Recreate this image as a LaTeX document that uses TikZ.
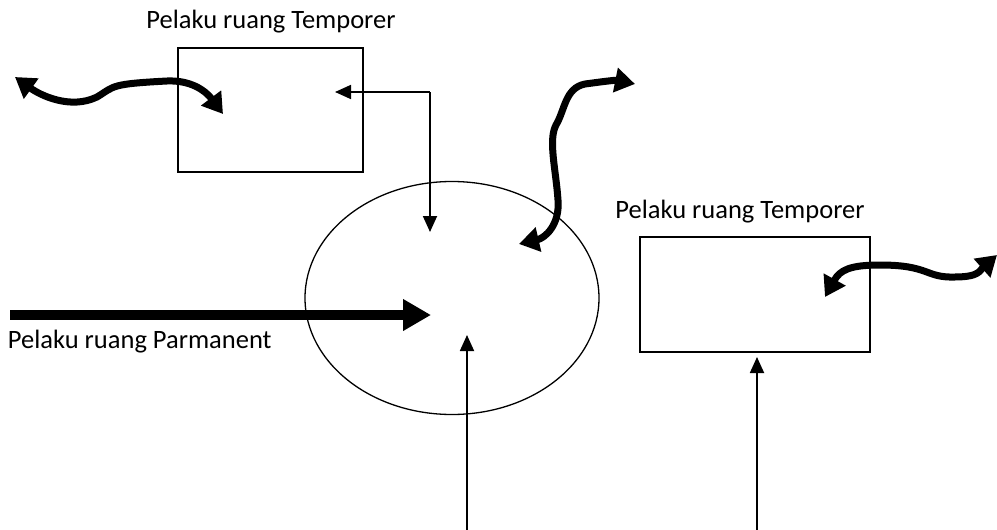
\documentclass[tikz,border=0pt]{standalone}
\usepackage{fontspec}
\setmainfont{Carlito}
\usetikzlibrary{arrows.meta,shapes.geometric}
\begin{document}
\begin{tikzpicture}[x=1pt,y=-1pt,
  every node/.style={inner sep=0pt,outer sep=0pt},
  boxnode/.style={draw,line width=1.3pt,rectangle,anchor=north west},
  blob/.style={draw,line width=1.3pt,ellipse},
  caption/.style={font=\fontsize{26.5}{30}\selectfont},
  thin arrow/.style={line width=1.8pt,-{Triangle[length=16pt,width=14pt]}},
  bold arrow/.style={line width=10pt,-{Triangle[length=28pt,width=30pt]}},
  wave/.style={line width=7pt,line cap=round,line join=round},
  wavetip/.style={{Triangle[length=20pt,width=24pt]}-{Triangle[length=20pt,width=24pt]}}
]
\useasboundingbox (0,0) rectangle (997,530);
% rooms and the shared space
\node[boxnode,minimum width=185pt,minimum height=124pt] (roomA) at (178,48) {};
\node[boxnode,minimum width=230pt,minimum height=115pt] (roomB) at (640,237) {};
\node[blob,minimum width=294pt,minimum height=233pt] (space) at (452,298) {};
% captions
\node[caption] (capA) at (271,22) {Pelaku ruang Temporer};
\node[caption] (capB) at (740,212) {Pelaku ruang Temporer};
\node[caption,anchor=west] (capP) at (8,342) {Pelaku ruang Parmanent};
% connector end points
\coordinate (corner) at (430,92);
\coordinate (inA) at (335,92);
\coordinate (inS) at (430,232);
\coordinate (pStart) at (10,315);
\coordinate (pEnd) at (431,315);
\coordinate (baseS) at (467,530);
\coordinate (upS) at (467,335);
\coordinate (baseB) at (757,530);
\coordinate (upB) at (757,357);
% thin connectors
\draw[thin arrow] (corner) -- (inA);
\draw[thin arrow] (corner) -- (inS);
\draw[thin arrow] (baseS) -- (upS);
\draw[thin arrow] (baseB) -- (upB);
% permanent users
\draw[bold arrow] (pStart) -- (pEnd);
% temporary movements
\coordinate (wA1) at (15,77);
\coordinate (wA2) at (223,114);
\draw[wave,wavetip] (wA1) .. controls (40,95) and (70,110) .. (97,97)
  .. controls (115,86) and (110,84) .. (167,81)
  .. controls (190,80) and (205,90) .. (wA2);
\coordinate (wB1) at (519,244);
\coordinate (wB2) at (635,84);
\draw[wave,wavetip] (wB1) .. controls (545,238) and (560,225) .. (558,200)
  .. controls (556,170) and (548,140) .. (556,125)
  .. controls (565,110) and (565,88) .. (585,84)
  .. controls (600,82) and (615,80) .. (wB2);
\coordinate (wC1) at (825,297);
\coordinate (wC2) at (997,255);
\draw[wave,wavetip] (wC1) .. controls (840,270) and (850,265) .. (880,265)
  .. controls (930,265) and (925,278) .. (955,277)
  .. controls (980,277) and (980,270) .. (wC2);
\end{tikzpicture}
\end{document}
